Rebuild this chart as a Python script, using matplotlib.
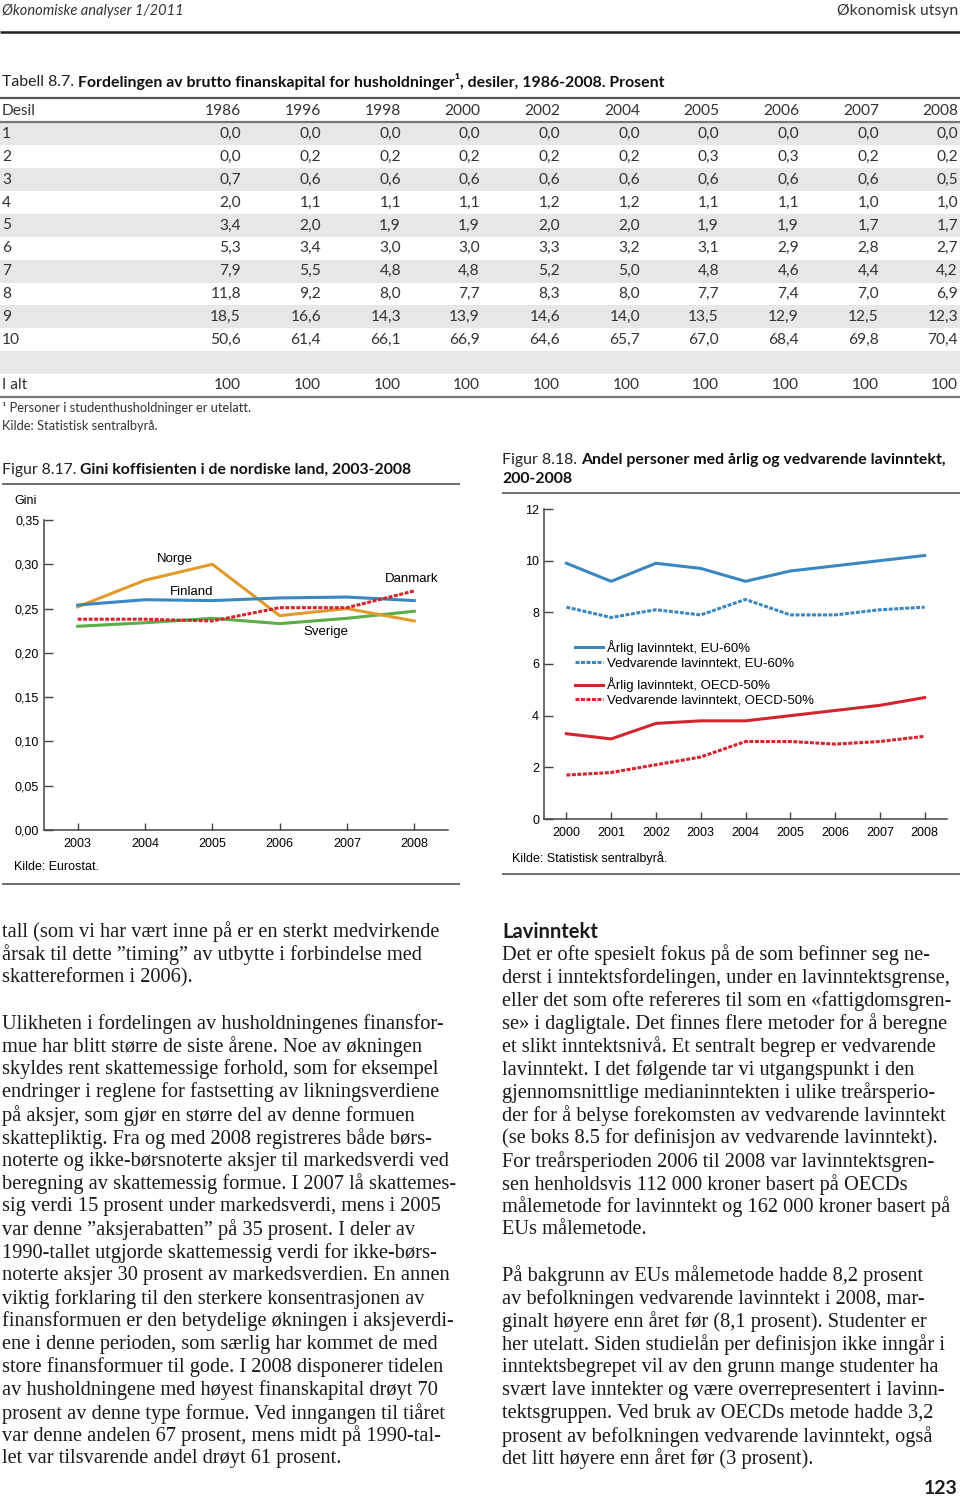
import matplotlib
matplotlib.use('Agg')
import numpy as np
import matplotlib.pyplot as plt
from matplotlib.lines import Line2D
from matplotlib.patches import Rectangle

W, H = 960, 1499

# Tabell 8.7
table_years = ['1986', '1996', '1998', '2000', '2002', '2004', '2005', '2006', '2007', '2008']
desil = ['1', '2', '3', '4', '5', '6', '7', '8', '9', '10']
col_1986 = [0.0, 0.0, 0.7, 2.0, 3.4, 5.3, 7.9, 11.8, 18.5, 50.6]
col_1996 = [0.0, 0.2, 0.6, 1.1, 2.0, 3.4, 5.5, 9.2, 16.6, 61.4]
col_1998 = [0.0, 0.2, 0.6, 1.1, 1.9, 3.0, 4.8, 8.0, 14.3, 66.1]
col_2000 = [0.0, 0.2, 0.6, 1.1, 1.9, 3.0, 4.8, 7.7, 13.9, 66.9]
col_2002 = [0.0, 0.2, 0.6, 1.2, 2.0, 3.3, 5.2, 8.3, 14.6, 64.6]
col_2004 = [0.0, 0.2, 0.6, 1.2, 2.0, 3.2, 5.0, 8.0, 14.0, 65.7]
col_2005 = [0.0, 0.3, 0.6, 1.1, 1.9, 3.1, 4.8, 7.7, 13.5, 67.0]
col_2006 = [0.0, 0.3, 0.6, 1.1, 1.9, 2.9, 4.6, 7.4, 12.9, 68.4]
col_2007 = [0.0, 0.2, 0.6, 1.0, 1.7, 2.8, 4.4, 7.0, 12.5, 69.8]
col_2008 = [0.0, 0.2, 0.5, 1.0, 1.7, 2.7, 4.2, 6.9, 12.3, 70.4]
i_alt = [100] * 10

# Figur 8.17
gini_years = [2003, 2004, 2005, 2006, 2007, 2008]
norge = [0.252, 0.282, 0.300, 0.242, 0.250, 0.236]
finland = [0.254, 0.260, 0.259, 0.262, 0.263, 0.259]
danmark = [0.238, 0.238, 0.236, 0.251, 0.251, 0.270]
sverige = [0.230, 0.234, 0.239, 0.233, 0.239, 0.247]

# Figur 8.18
lav_years = [2000, 2001, 2002, 2003, 2004, 2005, 2006, 2007, 2008]
arlig_eu = [9.9, 9.2, 9.9, 9.7, 9.2, 9.6, 9.8, 10.0, 10.2]
vedv_eu = [8.2, 7.8, 8.1, 7.9, 8.5, 7.9, 7.9, 8.1, 8.2]
arlig_oecd = [3.3, 3.1, 3.7, 3.8, 3.8, 4.0, 4.2, 4.4, 4.7]
vedv_oecd = [1.7, 1.8, 2.1, 2.4, 3.0, 3.0, 2.9, 3.0, 3.2]

left_text = [
    "tall (som vi har vært inne på er en sterkt medvirkende",
    "årsak til dette \u201dtiming\u201d av utbytte i forbindelse med",
    "skattereformen i 2006).",
    "",
    "Ulikheten i fordelingen av husholdningenes finansfor-",
    "mue har blitt større de siste årene. Noe av økningen",
    "skyldes rent skattemessige forhold, som for eksempel",
    "endringer i reglene for fastsetting av likningsverdiene",
    "på aksjer, som gjør en større del av denne formuen",
    "skattepliktig. Fra og med 2008 registreres både børs-",
    "noterte og ikke-børsnoterte aksjer til markedsverdi ved",
    "beregning av skattemessig formue. I 2007 lå skattemes-",
    "sig verdi 15 prosent under markedsverdi, mens i 2005",
    "var denne \u201daksjerabatten\u201d på 35 prosent. I deler av",
    "1990-tallet utgjorde skattemessig verdi for ikke-børs-",
    "noterte aksjer 30 prosent av markedsverdien. En annen",
    "viktig forklaring til den sterkere konsentrasjonen av",
    "finansformuen er den betydelige økningen i aksjeverdi-",
    "ene i denne perioden, som særlig har kommet de med",
    "store finansformuer til gode. I 2008 disponerer tidelen",
    "av husholdningene med høyest finanskapital drøyt 70",
    "prosent av denne type formue. Ved inngangen til tiåret",
    "var denne andelen 67 prosent, mens midt på 1990-tal-",
    "let var tilsvarende andel drøyt 61 prosent.",
]
right_text = [
    "Det er ofte spesielt fokus på de som befinner seg ne-",
    "derst i inntektsfordelingen, under en lavinntektsgrense,",
    "eller det som ofte refereres til som en «fattigdomsgren-",
    "se» i dagligtale. Det finnes flere metoder for å beregne",
    "et slikt inntektsnivå. Et sentralt begrep er vedvarende",
    "lavinntekt. I det følgende tar vi utgangspunkt i den",
    "gjennomsnittlige medianinntekten i ulike treårsperio-",
    "der for å belyse forekomsten av vedvarende lavinntekt",
    "(se boks 8.5 for definisjon av vedvarende lavinntekt).",
    "For treårsperioden 2006 til 2008 var lavinntektsgren-",
    "sen henholdsvis 112 000 kroner basert på OECDs",
    "målemetode for lavinntekt og 162 000 kroner basert på",
    "EUs målemetode.",
    "",
    "På bakgrunn av EUs målemetode hadde 8,2 prosent",
    "av befolkningen vedvarende lavinntekt i 2008, mar-",
    "ginalt høyere enn året før (8,1 prosent). Studenter er",
    "her utelatt. Siden studielån per definisjon ikke inngår i",
    "inntektsbegrepet vil av den grunn mange studenter ha",
    "svært lave inntekter og være overrepresentert i lavinn-",
    "tektsgruppen. Ved bruk av OECDs metode hadde 3,2",
    "prosent av befolkningen vedvarende lavinntekt, også",
    "det litt høyere enn året før (3 prosent).",
]

SANS = 'Lato'
CHART = 'Liberation Sans'
SERIF = 'Liberation Serif'
TAB = 11.2      # table text size
BODY = 14.7     # body text size


def fx(px):
    return px / W


def fy(py):
    return 1 - py / H


fig = plt.figure(figsize=(W / 100, H / 100), dpi=100)
renderer = fig.canvas.get_renderer()


def hline(y, x0, x1, lw=1.5, color='#444444'):
    fig.add_artist(Line2D([fx(x0), fx(x1)], [fy(y), fy(y)], lw=lw, color=color,
                          solid_capstyle='butt'))


def two_part(x, y, regular, bold, size):
    t = fig.text(fx(x), fy(y), regular, fontsize=size, family=SANS, va='center', color='#222222')
    bb = t.get_window_extent(renderer=renderer)
    fig.text(bb.x1 / W, fy(y), bold, fontsize=size, family=SANS, weight='bold',
             va='center', color='#111111')


def fmt(v):
    return f'{v:.1f}'.replace('.', ',')


# page header
fig.text(fx(2), fy(11), 'Økonomiske analyser 1/2011', fontsize=10.5, family=SANS,
         style='italic', va='center', color='#333333')
fig.text(fx(958), fy(11), 'Økonomisk utsyn', fontsize=11.3, family=SANS,
         va='center', ha='right', color='#333333')
hline(32, 0, 960, lw=1.8, color='#222222')

# table
two_part(2, 82, 'Tabell 8.7. ',
         'Fordelingen av brutto finanskapital for husholdninger¹, desiler, 1986-2008. Prosent', 11.4)
hline(98, 0, 960, lw=1.6, color='#555555')
hline(122, 0, 960, lw=1.6, color='#777777')

col_x = [241, 321, 401, 480, 560, 640, 719, 799, 879, 958]
columns = [col_1986, col_1996, col_1998, col_2000, col_2002,
           col_2004, col_2005, col_2006, col_2007, col_2008]
row_y0, row_dy = 134, 22.85

fig.text(fx(2), fy(111), 'Desil', fontsize=TAB, family=SANS, va='center', color='#333333')
for cx, yr in zip(col_x, table_years):
    fig.text(fx(cx), fy(111), yr, fontsize=TAB, family=SANS, va='center', ha='right', color='#333333')

for i in range(11):
    if i % 2 == 0:
        yc = row_y0 + i * row_dy
        fig.add_artist(Rectangle((0, fy(yc + row_dy / 2)), 1, row_dy / H,
                                 transform=fig.transFigure, color='#e6e7e8', lw=0, zorder=0))

for i, d in enumerate(desil):
    yc = row_y0 + i * row_dy
    fig.text(fx(2), fy(yc), d, fontsize=TAB, family=SANS, va='center', color='#333333')
    for cx, col in zip(col_x, columns):
        fig.text(fx(cx), fy(yc), fmt(col[i]), fontsize=TAB, family=SANS, va='center',
                 ha='right', color='#333333')

y_alt = row_y0 + 11 * row_dy
fig.text(fx(2), fy(y_alt), 'I alt', fontsize=TAB, family=SANS, va='center', color='#333333')
for cx, v in zip(col_x, i_alt):
    fig.text(fx(cx), fy(y_alt), str(v), fontsize=TAB, family=SANS, va='center', ha='right', color='#333333')
hline(397, 0, 960, lw=1.6, color='#777777')

fig.text(fx(2), fy(408), '¹ Personer i studenthusholdninger er utelatt.', fontsize=9.3,
         family=SANS, va='center', color='#333333')
fig.text(fx(2), fy(426), 'Kilde: Statistisk sentralbyrå.', fontsize=9.3,
         family=SANS, va='center', color='#333333')

# Figur 8.17
two_part(2, 470, 'Figur 8.17. ', 'Gini koffisienten i de nordiske land, 2003-2008', 11.3)
hline(484, 2, 460, lw=1.2, color='#555555')
hline(884, 2, 460, lw=1.2, color='#555555')

axL = fig.add_axes([fx(44), fy(830), fx(448) - fx(44), (830 - 520) / H])
dash = (0, (1.3, 0.5))
axL.plot(gini_years, sverige, color='#5aae47', lw=2.2)
axL.plot(gini_years, norge, color='#e19b2c', lw=2.2)
axL.plot(gini_years, finland, color='#3b87c0', lw=2.2)
axL.plot(gini_years, danmark, color='#d4252e', lw=2.2, ls=dash)
axL.set_xlim(2002.5, 2008.5)
axL.set_ylim(0, 0.35)
gini_ticks = np.arange(0, 0.351, 0.05)
axL.set_yticks(gini_ticks)
axL.set_yticklabels([f'{v:.2f}'.replace('.', ',') for v in gini_ticks])
axL.set_xticks(gini_years)
axL.text(2004.45, 0.306, 'Norge', fontsize=9.5, family=CHART, ha='center', va='center')
axL.text(2004.69, 0.2687, 'Finland', fontsize=9.5, family=CHART, ha='center', va='center')
axL.text(2007.96, 0.2834, 'Danmark', fontsize=9.5, family=CHART, ha='center', va='center')
axL.text(2006.68, 0.2236, 'Sverige', fontsize=9.5, family=CHART, ha='center', va='center')
fig.text(fx(14), fy(501), 'Gini', fontsize=9, family=CHART, va='center')
fig.text(fx(14), fy(867), 'Kilde: Eurostat.', fontsize=9, family=CHART, va='center')

# Figur 8.18
two_part(502, 460, 'Figur 8.18. ', 'Andel personer med årlig og vedvarende lavinntekt,', 11.4)
fig.text(fx(502), fy(479), '200-2008', fontsize=11.4, family=SANS, weight='bold',
         va='center', color='#111111')
hline(493, 502, 960, lw=1.2, color='#555555')
hline(874, 502, 960, lw=1.2, color='#555555')

axR = fig.add_axes([fx(544), fy(819), fx(947) - fx(544), (819 - 509) / H])
l1, = axR.plot(lav_years, arlig_eu, color='#3b87c0', lw=2.2, label='Årlig lavinntekt, EU-60%')
l2, = axR.plot(lav_years, vedv_eu, color='#3b87c0', lw=2.2, ls=dash, label='Vedvarende lavinntekt, EU-60%')
l3, = axR.plot(lav_years, arlig_oecd, color='#d4252e', lw=2.2, label='Årlig lavinntekt, OECD-50%')
l4, = axR.plot(lav_years, vedv_oecd, color='#d4252e', lw=2.2, ls=dash, label='Vedvarende lavinntekt, OECD-50%')
axR.set_xlim(1999.5, 2008.5)
axR.set_ylim(0, 12)
axR.set_yticks(range(0, 13, 2))
axR.set_xticks(lav_years)
leg_kw = dict(frameon=False, loc='upper left', handlelength=2.1,
              handletextpad=0.35, labelspacing=0.15, borderpad=0, borderaxespad=0,
              prop={'family': CHART, 'size': 9.5})
leg1 = axR.legend(handles=[l1, l2], bbox_to_anchor=(0.077, 0.577), **leg_kw)
axR.add_artist(leg1)
axR.legend(handles=[l3, l4], bbox_to_anchor=(0.077, 0.457), **leg_kw)
fig.text(fx(512), fy(858), 'Kilde: Statistisk sentralbyrå.', fontsize=9, family=CHART, va='center')

for ax in (axL, axR):
    for s in ('top', 'right'):
        ax.spines[s].set_visible(False)
    for s in ('left', 'bottom'):
        ax.spines[s].set_color('#444444')
        ax.spines[s].set_linewidth(1.1)
    ax.tick_params(axis='y', direction='in', length=6.5, width=1, color='#444444',
                   labelsize=9, pad=3.5)
    ax.tick_params(axis='x', direction='in', length=5, width=1, color='#444444',
                   labelsize=9, pad=5.5)
    for lab in ax.get_xticklabels() + ax.get_yticklabels():
        lab.set_family(CHART)
    ax.patch.set_alpha(0)

# body text
line_dy = 22.91
for i, line in enumerate(left_text):
    fig.text(fx(2), fy(932 + i * line_dy), line, fontsize=BODY, family=SERIF,
             va='center', color='#1a1a1a')
fig.text(fx(502), fy(932), 'Lavinntekt', fontsize=14.5, family=SANS, weight='bold',
         va='center', color='#1a1a1a')
for i, line in enumerate(right_text):
    fig.text(fx(502), fy(955 + i * line_dy), line, fontsize=BODY, family=SERIF,
             va='center', color='#1a1a1a')
fig.text(fx(958), fy(1489), '123', fontsize=14, family=SANS, weight='bold',
         va='center', ha='right', color='#1a1a1a')

fig.savefig('out.png', dpi=100)
